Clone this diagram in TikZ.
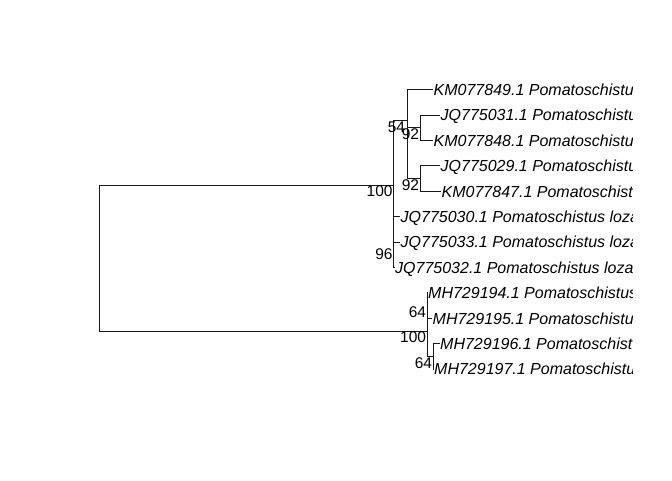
\documentclass[tikz,border=0pt]{standalone}
\usepackage{fontspec}
\setmainfont{Liberation Sans}
\begin{document}
\begin{tikzpicture}[x=1pt,y=-1pt]
\useasboundingbox (0,0) rectangle (672,480);
\tikzset{EdgeStyle/.style={line width=0.75pt, black!90}}
\tikzset{TipStyle/.style={anchor=base west, inner sep=0.5pt, yshift=-6pt, font=\fontsize{16}{18}\selectfont\itshape}}
\tikzset{SupportStyle/.style={anchor=north east, inner sep=0.8pt, font=\fontsize{15.5}{18}\selectfont}}
% inner nodes
\coordinate (root) at (99,258);
\coordinate (nA) at (393.5,185);
\coordinate (nB) at (407,120.8);
\coordinate (nD) at (407,153);
\coordinate (nQa) at (420,127.6);
\coordinate (nQb) at (420,178.4);
\coordinate (nC) at (393.5,248);
\coordinate (nE) at (427,331);
\coordinate (nG) at (427,305.4);
\coordinate (nF) at (433,356.2);
% tips
\coordinate (t1) at (433,89.5);
\coordinate (t2) at (440,114.9);
\coordinate (t3) at (433,140.3);
\coordinate (t4) at (440,165.7);
\coordinate (t5) at (441,191.1);
\coordinate (t6) at (400,216.5);
\coordinate (t7) at (400,241.9);
\coordinate (t8) at (394.5,267.3);
\coordinate (t9) at (427.5,292.7);
\coordinate (t10) at (432,318.1);
\coordinate (t11) at (439.5,343.5);
\coordinate (t12) at (433.5,368.9);
% branches
\draw[EdgeStyle] (root) |- (nA);
\draw[EdgeStyle] (root) |- (nE);
\draw[EdgeStyle] (nA) |- (nB);
\draw[EdgeStyle] (nA) |- (nC);
\draw[EdgeStyle] (nB) |- (t1);
\draw[EdgeStyle] (nB) |- (nD);
\draw[EdgeStyle] (nD) |- (nQa);
\draw[EdgeStyle] (nD) |- (nQb);
\draw[EdgeStyle] (nQa) |- (t2);
\draw[EdgeStyle] (nQa) |- (t3);
\draw[EdgeStyle] (nQb) |- (t4);
\draw[EdgeStyle] (nQb) |- (t5);
\draw[EdgeStyle] (nC) |- (t6);
\draw[EdgeStyle] (nC) |- (t7);
\draw[EdgeStyle] (nC) |- (t8);
\draw[EdgeStyle] (nE) |- (nG);
\draw[EdgeStyle] (nE) |- (nF);
\draw[EdgeStyle] (nG) |- (t9);
\draw[EdgeStyle] (nG) |- (t10);
\draw[EdgeStyle] (nF) |- (t11);
\draw[EdgeStyle] (nF) |- (t12);
% support values
\node[SupportStyle] (sA) at (nA) {100};
\node[SupportStyle, xshift=-1pt] (sB) at (nB) {54};
\node[SupportStyle] (sQa) at (nQa) {92};
\node[SupportStyle] (sQb) at (nQb) {92};
\node[SupportStyle] (sC) at (nC) {96};
\node[SupportStyle] (sE) at (nE) {100};
\node[SupportStyle] (sG) at (nG) {64};
\node[SupportStyle] (sF) at (nF) {64};
% tip labels, cut at the plot edge
\begin{scope}
\clip (0,0) rectangle (632,480);
\node[TipStyle] (l1) at (t1) {KM077849.1 Pomatoschistus};
\node[TipStyle] (l2) at (t2) {JQ775031.1 Pomatoschistus};
\node[TipStyle] (l3) at (t3) {KM077848.1 Pomatoschistus};
\node[TipStyle] (l4) at (t4) {JQ775029.1 Pomatoschistus};
\node[TipStyle] (l5) at (t5) {KM077847.1 Pomatoschistus};
\node[TipStyle] (l6) at (t6) {JQ775030.1 Pomatoschistus loza};
\node[TipStyle] (l7) at (t7) {JQ775033.1 Pomatoschistus loza};
\node[TipStyle] (l8) at (t8) {JQ775032.1 Pomatoschistus loza};
\node[TipStyle] (l9) at (t9) {MH729194.1 Pomatoschistus};
\node[TipStyle] (l10) at (t10) {MH729195.1 Pomatoschistus};
\node[TipStyle] (l11) at (t11) {MH729196.1 Pomatoschistus};
\node[TipStyle] (l12) at (t12) {MH729197.1 Pomatoschistus};
\end{scope}
\end{tikzpicture}
\end{document}
